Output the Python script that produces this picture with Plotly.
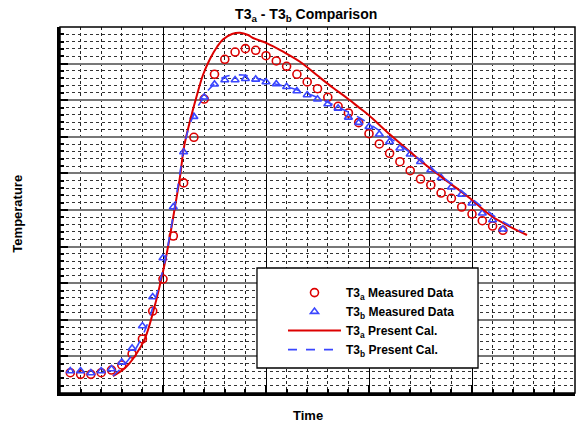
import plotly.graph_objects as go

# ---- data (arbitrary units, no tick labels shown) ----
t_meas = [0.5, 1.0, 1.5, 2.0, 2.5, 3.0, 3.5, 4.0, 4.5, 5.0, 5.5, 6.0, 6.5, 7.0, 7.5,
          8.0, 8.5, 9.0, 9.5, 10.0, 10.5, 11.0, 11.5, 12.0, 12.5, 13.0, 13.5, 14.0,
          14.5, 15.0, 15.5, 16.0, 16.5, 17.0, 17.5, 18.0, 18.5, 19.0, 19.5, 20.0,
          20.5, 21.0, 21.5]
T3a_meas = [2.77, 2.55, 2.55, 2.77, 3.14, 3.83, 5.33, 7.38, 11.2, 15.57, 21.45, 28.7,
            34.93, 40.16, 43.54, 45.59, 46.58, 47.04, 46.82, 46.08, 45.36, 44.63, 43.54,
            42.49, 41.57, 40.4, 39.17, 38.25, 36.93, 35.42, 34.02, 32.75, 31.6, 30.37,
            29.23, 28.42, 27.32, 26.6, 25.41, 24.45, 23.54, 22.81, 22.23]
T3b_meas = [3.01, 3.01, 2.73, 3.01, 3.28, 4.19, 6.1, 9.15, 13.11, 18.44, 25.41, 32.92,
            37.75, 40.4, 42.17, 42.76, 42.76, 42.94, 42.85, 42.49, 42.21, 41.84, 41.26,
            40.71, 40.12, 39.48, 38.89, 37.66, 36.93, 36.38, 35.34, 34.33, 33.43, 32.61,
            31.6, 30.46, 29.41, 28.1, 27.14, 25.92, 24.55, 23.63, 22.36]

t_calc_a = [2.57, 3.16, 3.64, 4.13, 4.61, 4.85, 5.10, 5.34, 5.58, 5.83, 6.02, 6.31,
            6.65, 6.94, 7.28, 7.62, 7.91, 8.35, 8.74, 9.13, 9.37, 10.05, 10.83, 11.65,
            12.48, 13.25, 13.93, 14.56, 14.95, 16.02, 16.99, 17.96, 18.93, 19.90,
            20.87, 21.84, 22.67]
T3a_calc = [2.32, 3.42, 5.05, 7.51, 12.02, 14.75, 17.90, 21.45, 25.41, 29.64, 33.61,
            37.16, 40.71, 43.44, 45.63, 47.27, 48.29, 49.04, 49.22, 48.91, 48.50, 47.77,
            46.63, 45.26, 43.40, 41.70, 40.30, 38.90, 38.05, 35.30, 32.96, 30.70, 28.65,
            26.60, 24.32, 22.72, 21.58]

t_calc_b = [2.57, 3.16, 3.64, 4.13, 4.61, 5.10, 5.58, 5.83, 6.07, 6.31, 6.60, 6.89,
            7.28, 8.01, 8.88, 9.56, 10.34, 11.26, 11.99, 12.77, 13.59, 14.56, 15.53,
            16.50, 17.48, 18.45, 19.42, 20.39, 21.36, 22.48]
T3b_calc = [2.32, 3.96, 5.87, 8.61, 12.70, 18.17, 25.68, 30.19, 34.29, 36.75, 38.66,
            40.03, 41.63, 43.21, 43.44, 42.99, 42.31, 41.63, 40.94, 40.03, 38.93, 37.57,
            35.79, 33.88, 31.83, 29.78, 27.73, 25.68, 23.63, 21.99]

x_range = [0, 25]
y_range = [0, 50]

RED = "#DD0000"
BLUE = "#3A46FF"
FONT = "Arial, Liberation Sans, sans-serif"

fig = go.Figure()
fig.add_trace(go.Scatter(x=t_meas, y=T3a_meas, mode="markers",
                         name="<b>T3<sub>a</sub> Measured Data</b>",
                         marker=dict(symbol="circle-open", size=8, color=RED,
                                     line=dict(width=1.6, color=RED))))
fig.add_trace(go.Scatter(x=t_meas, y=T3b_meas, mode="markers",
                         name="<b>T3<sub>b</sub> Measured Data</b>",
                         marker=dict(symbol="triangle-up-open", size=7, color=BLUE,
                                     line=dict(width=1.6, color=BLUE))))
fig.add_trace(go.Scatter(x=t_calc_a, y=T3a_calc, mode="lines",
                         name="<b>T3<sub>a</sub> Present Cal.</b>",
                         line=dict(color=RED, width=2, shape="spline", smoothing=1.0)))
fig.add_trace(go.Scatter(x=t_calc_b, y=T3b_calc, mode="lines",
                         name="<b>T3<sub>b</sub> Present Cal.</b>",
                         line=dict(color=BLUE, width=1.6, dash="dash", shape="spline")))

# legend box
fig.add_shape(type="rect", xref="paper", yref="paper",
              x0=0.3825, x1=0.8117, y0=0.0683, y1=0.3415,
              fillcolor="white", line=dict(color="black", width=1.3), layer="above")
# plot frame
fig.add_shape(type="rect", xref="paper", yref="paper", x0=0, x1=1, y0=0, y1=1,
              line=dict(color="black", width=1.5), layer="above")

fig.update_layout(
    width=581, height=426,
    margin=dict(l=60, r=6, t=27, b=33),
    paper_bgcolor="white", plot_bgcolor="white",
    font=dict(family=FONT, color="black"),
    title=dict(text="<b>T3<sub>a</sub> - T3<sub>b</sub> Comparison</b>",
               x=0.527, xanchor="center", y=0.967, yanchor="middle",
               font=dict(size=14, family=FONT)),
    showlegend=True,
    legend=dict(x=0.433, y=0.314, xanchor="left", yanchor="top",
                bgcolor="rgba(0,0,0,0)", borderwidth=0,
                font=dict(size=12, family=FONT), itemwidth=53,
                tracegroupgap=0),
    annotations=[
        dict(text="<b>Time</b>", xref="paper", yref="paper", x=0.482, y=-0.062,
             xanchor="center", yanchor="middle", showarrow=False,
             font=dict(size=13, family=FONT)),
        dict(text="<b>Temperature</b>", xref="paper", yref="paper", x=-0.0816, y=0.49,
             xanchor="center", yanchor="middle", textangle=-90, showarrow=False,
             font=dict(size=13, family=FONT)),
    ],
)

fig.update_xaxes(range=x_range, showticklabels=False, zeroline=False,
                 showline=True, linecolor="black", linewidth=3,
                 ticks="inside", ticklen=8, tickwidth=2, tickcolor="black",
                 dtick=5, tick0=0,
                 showgrid=True, gridcolor="black", gridwidth=1,
                 minor=dict(dtick=1, showgrid=True, gridcolor="#222", griddash="dot",
                            gridwidth=1, ticks="inside", ticklen=4, tickcolor="black"))
fig.update_yaxes(range=y_range, showticklabels=False, zeroline=False,
                 showline=True, linecolor="black", linewidth=3,
                 ticks="inside", ticklen=8, tickwidth=2, tickcolor="black",
                 dtick=5, tick0=0,
                 showgrid=True, gridcolor="#777", gridwidth=2,
                 minor=dict(dtick=1, showgrid=True, gridcolor="#333", griddash="dot",
                            gridwidth=1.3, ticks="inside", ticklen=4, tickcolor="black"))

fig.write_html("out.html")
